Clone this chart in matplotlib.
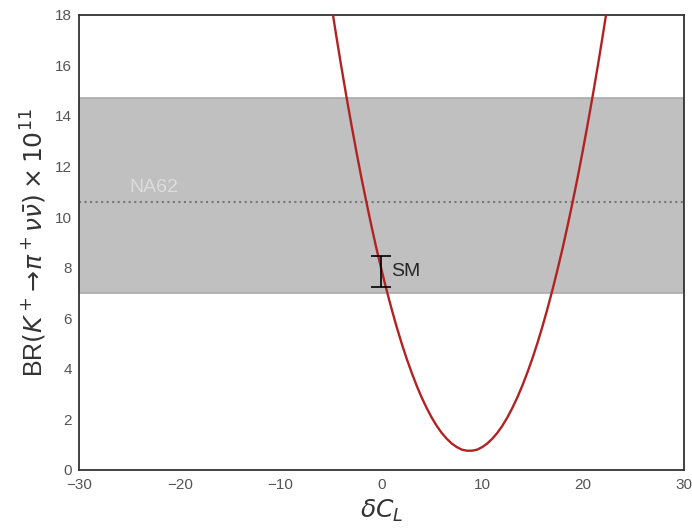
import numpy as np
import matplotlib
matplotlib.use("Agg")
from matplotlib import pyplot as plt
import seaborn as sns

sns.set_style("white")
plt.rcParams['font.family'] = ['Liberation Sans', 'DejaVu Sans']
plt.rcParams['mathtext.fontset'] = 'dejavusans'

# curve: BR vs delta C_L (every 0.5)
dcl = np.arange(-5.5, 23.01, 0.5)
br = [19.84, 18.52, 17.25, 16.03, 14.86, 13.73, 12.65, 11.61, 10.63, 9.69,
      8.79, 7.95, 7.15, 6.40, 5.69, 5.03, 4.42, 3.86, 3.34, 2.87,
      2.45, 2.07, 1.74, 1.46, 1.23, 1.04, 0.90, 0.80, 0.76, 0.76,
      0.80, 0.90, 1.04, 1.23, 1.46, 1.74, 2.07, 2.45, 2.87, 3.34,
      3.86, 4.42, 5.03, 5.69, 6.40, 7.15, 7.95, 8.79, 9.69, 10.63,
      11.61, 12.65, 13.73, 14.86, 16.03, 17.25, 18.52, 19.84]

# NA62 measurement band
na62_central = 10.6
na62_low = 7.0
na62_high = 14.7

# SM prediction
sm_x = 0.0
sm_central = 7.85
sm_err = 0.63

fig = plt.figure(figsize=(6.92, 5.28), dpi=100)
ax = fig.add_axes([0.114, 0.110, 0.874, 0.862])

ax.axhspan(na62_low, na62_high, facecolor='#c0c0c0', edgecolor='#aaaaaa', lw=1.2, zorder=1)
ax.axhline(na62_central, color='#777777', ls=':', lw=1.5, zorder=2)
ax.text(-25, 11.0, 'NA62', color='#dcdcdc', fontsize=14, zorder=3)

ax.plot(dcl, br, color='#b22222', lw=1.7, zorder=4)

ax.errorbar([sm_x], [sm_central], yerr=[sm_err], fmt='none', ecolor='black',
            elinewidth=1.2, capsize=7, capthick=1.2, zorder=5)
ax.text(sm_x + 1.0, sm_central, 'SM', fontsize=14, va='center', zorder=6)

ax.set_xlim(-30, 30)
ax.set_ylim(0, 18)
ax.set_xticks(np.arange(-30, 31, 10))
ax.set_yticks(np.arange(0, 19, 2))
ax.tick_params(labelsize=11, labelcolor='#555555', length=0)
ax.tick_params(axis='y', pad=5)
ax.tick_params(axis='x', pad=6)

for s in ax.spines.values():
    s.set_color('#333333')
    s.set_linewidth(1.3)

ax.set_xlabel(r'$\delta C_L$', fontsize=18, color='#333333')
ax.set_ylabel(r'BR$(K^+\!\to\!\pi^+\nu\bar{\nu})\times10^{11}$', fontsize=18, color='#333333')

fig.savefig('out.png', dpi=100)
